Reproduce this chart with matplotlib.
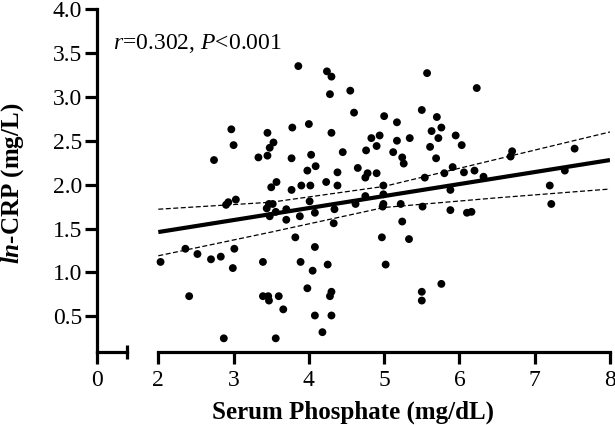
import numpy as np
import matplotlib
matplotlib.use('Agg')
import matplotlib.pyplot as plt

phosphate = [3.86, 4.24, 4.30, 4.28, 4.55, 4.60, 5.00, 2.97, 3.00, 3.45, 3.78, 4.00, 4.30, 3.53, 3.48,
             3.33, 3.45, 2.74, 3.77, 4.03, 4.45, 4.83, 4.94, 4.90, 4.76, 3.98, 4.09, 4.38, 4.65, 4.78, 4.90,
             5.57, 6.23, 5.50, 5.70, 5.17, 5.76, 5.63, 5.72, 5.17, 5.34, 5.95, 6.03, 5.61, 5.12, 5.24,
             5.26, 5.69, 6.70, 6.68, 7.53, 5.91, 5.80, 6.06, 6.20, 5.54, 6.32, 7.40,
             4.99, 7.20, 5.88, 4.99, 4.99, 4.98, 5.22, 5.51, 7.22, 5.88, 6.10, 6.16, 5.24, 4.97, 5.33,
             5.02, 5.76, 5.50, 5.50,
             4.75, 3.57, 3.50, 3.77, 3.90, 4.02, 4.23, 4.38, 2.90, 2.93, 3.03, 3.44, 3.47, 3.52, 3.48,
             3.56, 3.70, 3.70, 3.88, 4.01, 4.08, 4.34, 4.33, 4.62, 4.75, 3.82, 4.08, 2.03, 2.36, 2.52,
             2.70, 2.83, 3.01, 2.99, 3.39, 3.89, 4.05, 4.25, 2.41, 3.39, 3.46, 3.47, 3.60, 3.66, 3.98,
             4.30, 4.28, 4.08, 4.30, 4.18, 2.87, 3.56]
ln_crp = [3.35, 3.29, 3.23, 3.03, 3.07, 2.82, 2.78, 2.63, 2.45, 2.59, 2.65, 2.69, 2.59, 2.48, 2.42,
          2.31, 2.33, 2.28, 2.30, 2.34, 2.37, 2.53, 2.56, 2.44, 2.39, 2.16, 2.21, 2.14, 2.19, 2.13, 2.13,
          3.27, 3.10, 2.85, 2.77, 2.71, 2.65, 2.61, 2.53, 2.50, 2.53, 2.56, 2.45, 2.43, 2.37, 2.31,
          2.24, 2.30, 2.38, 2.32, 2.41, 2.20, 2.13, 2.14, 2.16, 2.08, 2.09, 2.16,
          1.99, 1.99, 1.94, 1.89, 1.78, 1.75, 1.78, 1.75, 1.78, 1.71, 1.68, 1.69, 1.58, 1.40, 1.38,
          1.09, 0.87, 0.78, 0.68,
          2.08, 2.03, 1.97, 1.94, 1.99, 1.99, 2.03, 1.99, 1.77, 1.80, 1.83, 1.73, 1.78, 1.78, 1.64,
          1.69, 1.72, 1.60, 1.64, 1.81, 1.68, 1.72, 1.56, 1.78, 1.87, 1.40, 1.29, 1.12, 1.27, 1.21,
          1.15, 1.18, 1.27, 1.05, 1.12, 1.12, 1.02, 1.09, 0.73, 0.73, 0.73, 0.68, 0.73, 0.58, 0.82,
          0.78, 0.73, 0.51, 0.51, 0.32, 0.25, 0.25]

# regression line and 95% confidence band
fit_x = [2.0, 8.0]
fit_y = [1.46, 2.28]
band_x = [2.0, 3.5, 5.0, 6.5, 8.0]
band_upper = [1.72, 1.80, 1.98, 2.29, 2.60]
band_lower = [1.19, 1.46, 1.74, 1.85, 1.95]

y_ticks = [0.5, 1.0, 1.5, 2.0, 2.5, 3.0, 3.5, 4.0]
x_ticks_main = [2, 3, 4, 5, 6, 7, 8]
annotation = r'$r$=0.302, $P$<0.001'

plt.rcParams['font.family'] = ['Liberation Serif', 'DejaVu Serif']
plt.rcParams['mathtext.fontset'] = 'custom'
plt.rcParams['mathtext.rm'] = 'Liberation Serif'
plt.rcParams['mathtext.it'] = 'Liberation Serif:italic'
plt.rcParams['mathtext.bf'] = 'Liberation Serif:bold'
plt.rcParams['mathtext.bfit'] = 'Liberation Serif:italic:bold'

W, H = 615, 425
fig = plt.figure(figsize=(W / 100, H / 100), dpi=100)

y0, y1 = 351.5, 9.0
bottom = (H - y0) / H
height = (y0 - y1) / H
axL = fig.add_axes([96.7 / W, bottom, 30.6 / W, height])
axM = fig.add_axes([158.3 / W, bottom, (610 - 158.3) / W, height])

lw = 2.3
for ax in (axL, axM):
    ax.set_ylim(0.1, 4.0)
    ax.spines['top'].set_visible(False)
    ax.spines['right'].set_visible(False)
    ax.spines['bottom'].set_linewidth(lw)
    ax.spines['left'].set_linewidth(lw)
    ax.patch.set_alpha(0)

axL.set_xlim(0, 0.5)
axL.set_xticks([0])
axL.set_xticklabels(['0'])
axL.set_xticks([0.5], minor=True)
axL.set_yticks(y_ticks)
axL.set_yticklabels([f'{v:.1f}' for v in y_ticks])
axL.tick_params(axis='both', which='major', direction='out', length=8.5, width=lw, labelsize=17)
axL.tick_params(axis='x', which='major', pad=5)
axL.tick_params(axis='y', which='major', pad=2)
axL.tick_params(axis='x', which='minor', direction='inout', length=10, width=lw)
axL.tick_params(axis='y', which='minor', left=False)

axM.spines['left'].set_visible(False)
axM.set_xlim(2, 8)
axM.set_xticks(x_ticks_main)
axM.set_xticklabels([str(v) for v in x_ticks_main])
axM.set_xticks([2], minor=True)
axM.set_yticks([])
axM.tick_params(axis='x', which='major', direction='out', length=8.5, width=lw, labelsize=17, pad=5)
axM.tick_params(axis='x', which='minor', direction='inout', length=10, width=lw)

axM.scatter(phosphate, ln_crp, s=32, color='black', edgecolors='none', zorder=3, clip_on=False)

axM.plot(fit_x, fit_y, color='black', lw=3.0, solid_capstyle='butt', zorder=4)
axM.plot(band_x, band_upper, color='black', lw=0.9, ls=(0, (4, 2)), zorder=4)
axM.plot(band_x, band_lower, color='black', lw=0.9, ls=(0, (4, 2)), zorder=4)

fig.text(113 / W, (H - 49) / H, annotation, fontsize=17, ha='left', va='baseline')
fig.text(353.5 / W, (H - 419) / H, 'Serum Phosphate (mg/dL)', fontsize=18, fontweight='bold',
         ha='center', va='baseline')
fig.text(13 / W, (H - 183) / H, r'$\mathbfit{ln}$-CRP (mg/L)', fontsize=18, fontweight='bold',
         ha='center', va='center', rotation=90)

fig.savefig('out.png', dpi=100)
